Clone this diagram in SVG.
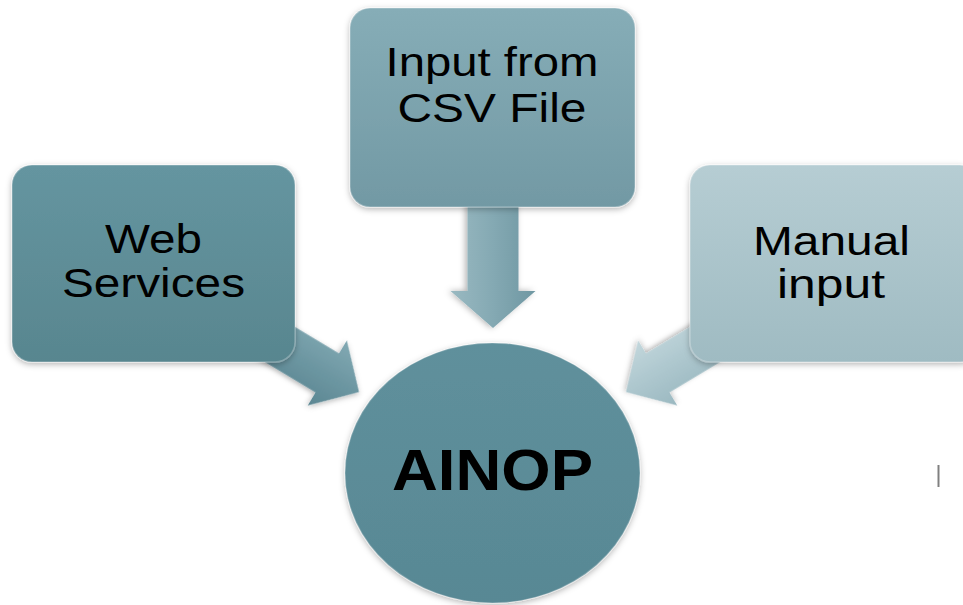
<svg xmlns="http://www.w3.org/2000/svg" width="963" height="605" viewBox="0 0 963 605">
  <defs>
    <linearGradient id="gWeb" x1="0" y1="0" x2="0" y2="1">
      <stop offset="0" stop-color="#6595a0"/>
      <stop offset="1" stop-color="#58868f"/>
    </linearGradient>
    <linearGradient id="gCsv" x1="0" y1="0" x2="0" y2="1">
      <stop offset="0" stop-color="#86adb7"/>
      <stop offset="1" stop-color="#7299a4"/>
    </linearGradient>
    <linearGradient id="gMan" x1="0" y1="0" x2="0" y2="1">
      <stop offset="0" stop-color="#b6cdd3"/>
      <stop offset="1" stop-color="#9fbbc2"/>
    </linearGradient>
    <linearGradient id="gCircle" x1="0" y1="0" x2="0" y2="1">
      <stop offset="0" stop-color="#5f909c"/>
      <stop offset="1" stop-color="#588894"/>
    </linearGradient>
    <linearGradient id="aWeb" x1="0" y1="0" x2="0" y2="1">
      <stop offset="0" stop-color="#82a9b3"/>
      <stop offset="0.5" stop-color="#6d97a2"/>
      <stop offset="1" stop-color="#5b8692"/>
    </linearGradient>
    <linearGradient id="aCsv" x1="0" y1="0" x2="0" y2="1">
      <stop offset="0" stop-color="#6f97a2"/>
      <stop offset="0.5" stop-color="#84a9b3"/>
      <stop offset="1" stop-color="#9ab9c1"/>
    </linearGradient>
    <linearGradient id="aMan" x1="0" y1="0" x2="0" y2="1">
      <stop offset="0" stop-color="#9ab8c0"/>
      <stop offset="0.5" stop-color="#adc7ce"/>
      <stop offset="1" stop-color="#c3d7dc"/>
    </linearGradient>
    <filter id="sh" x="-10%" y="-10%" width="120%" height="125%">
      <feDropShadow dx="0" dy="2" stdDeviation="3" flood-color="#000" flood-opacity="0.3"/>
    </filter>
    <path id="arrowShape" d="M -130,-24 L -37,-24 L -37,-40 L 0,0 L -37,40 L -37,24 L -130,24 Z"/>
  </defs>
  <style>
    .lbl { font-family: "Liberation Sans", Arial, sans-serif; font-size: 40px; fill: #000; text-anchor: middle; }
    .big { font-family: "Liberation Sans", Arial, sans-serif; font-size: 57px; font-weight: bold; fill: #000; text-anchor: middle; }
    .box { filter: url(#sh); stroke: #ffffff; stroke-opacity: 0.25; stroke-width: 1.5; }
    .arr { filter: url(#sh); }
  </style>
  <rect width="963" height="605" fill="#ffffff"/>

  <g id="connectors">
    <g transform="translate(493,328) rotate(90)"><use href="#arrowShape" class="arr" fill="url(#aCsv)" transform="scale(1,1.06)"/></g>
    <g transform="translate(359,392) rotate(31)"><use href="#arrowShape" class="arr" fill="url(#aWeb)" transform="scale(1,0.95)"/></g>
    <g transform="translate(626,392) rotate(149)"><use href="#arrowShape" class="arr" fill="url(#aMan)" transform="scale(1,0.95)"/></g>
  </g>

  <g id="node-web">
    <rect class="box" x="12" y="165" width="283" height="197" rx="20" fill="url(#gWeb)"/>
    <text class="lbl" x="153.5" y="253" textLength="97" lengthAdjust="spacingAndGlyphs">Web</text>
    <text class="lbl" x="153.5" y="297" textLength="183" lengthAdjust="spacingAndGlyphs">Services</text>
  </g>

  <g id="node-csv">
    <rect class="box" x="350" y="8" width="285" height="199" rx="20" fill="url(#gCsv)"/>
    <text class="lbl" x="492" y="76" textLength="213" lengthAdjust="spacingAndGlyphs">Input from</text>
    <text class="lbl" x="492" y="122" textLength="189" lengthAdjust="spacingAndGlyphs">CSV File</text>
  </g>

  <g id="node-manual">
    <rect class="box" x="690" y="165" width="290" height="197" rx="20" fill="url(#gMan)"/>
    <text class="lbl" x="831.5" y="255" textLength="157" lengthAdjust="spacingAndGlyphs">Manual</text>
    <text class="lbl" x="831" y="298" textLength="108" lengthAdjust="spacingAndGlyphs">input</text>
  </g>

  <g id="node-ainop">
    <ellipse cx="492.5" cy="473" rx="147.5" ry="130" fill="url(#gCircle)" filter="url(#sh)" stroke="#ffffff" stroke-opacity="0.2" stroke-width="1.5"/>
    <text class="big" x="492.5" y="490" textLength="201" lengthAdjust="spacingAndGlyphs">AINOP</text>
  </g>

  <line x1="938.5" y1="465" x2="938.5" y2="487" stroke="#808080" stroke-width="2"/>
</svg>
